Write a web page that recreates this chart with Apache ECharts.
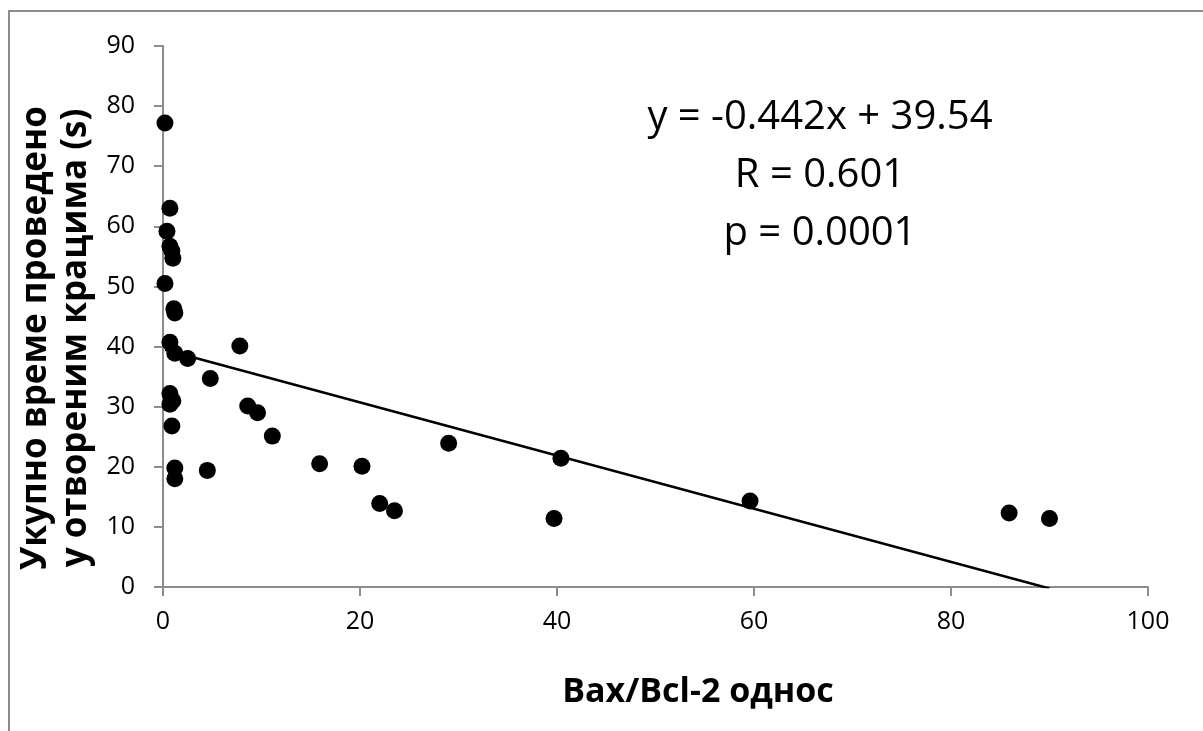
<!DOCTYPE html>
<html>
<head>
<meta charset="utf-8">
<script src="https://cdn.jsdelivr.net/npm/echarts@6/dist/echarts.min.js"></script>
<style>
  html, body { margin: 0; padding: 0; background: #fff; }
  #frame { position: absolute; left: 8px; top: 10px; width: 1300px; height: 800px; border: 2px solid #8c8c8c; box-sizing: border-box; }
  #chart { position: absolute; left: 0; top: 0; width: 1203px; height: 731px; }
</style>
</head>
<body>
<div id="frame"></div>
<div id="chart"></div>
<script>
// Bax/Bcl-2 ratio (x) vs total time spent in open arms, seconds (y)
const baxBcl2 = [0.2, 0.7, 0.4, 0.7, 0.9, 1.0, 0.2, 1.1, 1.2, 0.7, 1.2, 2.5, 7.8, 4.8,
                 0.7, 1.0, 0.7, 0.9, 8.6, 9.6, 11.1, 4.5, 1.2, 1.2, 15.9, 20.2, 22.0,
                 23.5, 29.0, 40.4, 39.7, 59.6, 85.9, 90.0];
const openArmTime = [77.2, 63.0, 59.2, 56.7, 55.9, 54.7, 50.5, 46.3, 45.6, 40.7, 38.9, 38.0,
                     40.1, 34.7, 32.2, 31.0, 30.4, 26.8, 30.1, 29.0, 25.1, 19.4, 19.8, 18.0,
                     20.5, 20.1, 13.9, 12.7, 23.9, 21.4, 11.4, 14.3, 12.3, 11.4];

// Linear fit reported on the chart
const slope = -0.442;
const intercept = 39.54;
const statLines = ['y = -0.442x + 39.54', 'R = 0.601', 'p = 0.0001'];

const xTitle = 'Bax/Bcl-2 однос';
const yTitle = ['Укупно време проведено', 'у отвореним крацима (s)'];

const xTicks = { min: 0, max: 100, interval: 20 };
const yTicks = { min: 0, max: 90, interval: 10 };

const points = baxBcl2.map((x, i) => [x, openArmTime[i]]);
const xLo = Math.min(...baxBcl2), xHi = Math.max(...baxBcl2);
const fitLine = [[xLo, slope * xLo + intercept], [xHi, slope * xHi + intercept]];

const family = '"Open Sans", "Noto Sans", sans-serif';
const axisGray = '#8c8c8c';

const chart = echarts.init(document.getElementById('chart'));
chart.setOption({
  animation: false,
  backgroundColor: 'transparent',
  grid: { left: 163, top: 46, right: 55, bottom: 144, containLabel: false },
  xAxis: {
    type: 'value', min: xTicks.min, max: xTicks.max, interval: xTicks.interval,
    axisLine: { show: true, lineStyle: { color: axisGray, width: 2 } },
    axisTick: { show: true, inside: false, length: 9, lineStyle: { color: axisGray, width: 2 } },
    axisLabel: { fontFamily: family, fontSize: 25, color: '#000', margin: 22 },
    splitLine: { show: false }
  },
  yAxis: {
    type: 'value', min: yTicks.min, max: yTicks.max, interval: yTicks.interval,
    axisLine: { show: true, onZero: false, lineStyle: { color: axisGray, width: 2 } },
    axisTick: { show: true, inside: false, length: 9, lineStyle: { color: axisGray, width: 2 } },
    axisLabel: { fontFamily: family, fontSize: 25, color: '#000', margin: 28 },
    splitLine: { show: false }
  },
  graphic: [
    ...statLines.map((t, i) => ({
      type: 'text', x: 820, y: 118 + i * 58, z: 10,
      style: { text: t, font: '40px ' + family, fill: '#000',
               textAlign: 'center', textVerticalAlign: 'middle' }
    })),
    {
      type: 'text', x: 698, y: 692, z: 10,
      style: { text: xTitle, font: 'bold 34px ' + family, fill: '#000',
               textAlign: 'center', textVerticalAlign: 'middle' }
    },
    {
      type: 'text', x: 56, y: 338, rotation: Math.PI / 2, z: 10,
      style: { text: yTitle.join('\n'), font: 'bold 35px ' + family, fill: '#000',
               lineHeight: 40, textAlign: 'center', textVerticalAlign: 'middle' }
    }
  ],
  series: [
    {
      type: 'line', data: fitLine, symbol: 'none', silent: true, z: 2,
      lineStyle: { color: '#000', width: 2.6 }
    },
    {
      type: 'scatter', data: points, symbol: 'circle', symbolSize: 17, z: 3,
      itemStyle: { color: '#000', opacity: 1 }
    }
  ]
});
</script>
</body>
</html>
